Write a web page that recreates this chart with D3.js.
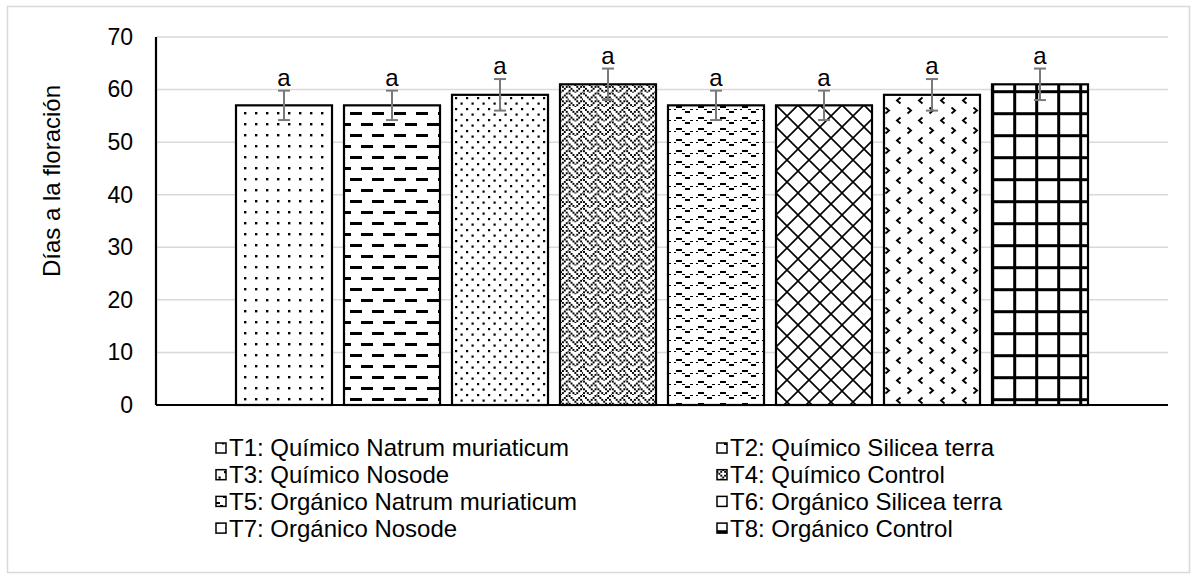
<!DOCTYPE html>
<html><head><meta charset="utf-8">
<script src="https://cdn.jsdelivr.net/npm/d3@7"></script>
<style>body{margin:0;background:#fff} svg{display:block;font-family:"Liberation Sans",Arial,sans-serif}</style>
</head><body><svg id="c" width="1197" height="580"></svg>
<script>
// ---- data ----
const series = [
  "T1: Químico Natrum muriaticum",
  "T2: Químico Silicea terra",
  "T3: Químico Nosode",
  "T4: Químico Control",
  "T5: Orgánico Natrum muriaticum",
  "T6: Orgánico Silicea terra",
  "T7: Orgánico Nosode",
  "T8: Orgánico Control"
];
const values = [57, 57, 59, 61, 57, 57, 59, 61];
const errors = [2.8, 2.8, 3, 3, 2.8, 2.8, 3, 3];
const letters = ["a", "a", "a", "a", "a", "a", "a", "a"];
const yTicks = [0, 10, 20, 30, 40, 50, 60, 70];
const yTitle = "Días a la floración";

// ---- style ----
const patternIds = ["p1", "p2", "p3", "p4", "p5", "p6", "p7", "p8"];
const plot = {left: 156, right: 1168, top: 37, bottom: 405};

const svg = d3.select("#c");
const defs = svg.append("defs");

function pat(id, w, h, x, y) {
  const p = defs.append("pattern").attr("id", id).attr("patternUnits", "userSpaceOnUse")
    .attr("width", w).attr("height", h).attr("x", x).attr("y", y);
  p.append("rect").attr("width", w).attr("height", h).attr("fill", "#fff");
  return p;
}
function bitmap(p, bits, s, pw, ph) {
  bits.forEach((b, r) => { for (let c = 0; c < 8; c++) if (b & (0x80 >> c))
    p.append("rect").attr("x", c * s).attr("y", r * s).attr("width", pw).attr("height", ph)
      .attr("fill", "#000").attr("shape-rendering", "crispEdges"); });
}
// T1 sparse dots
{ const p = pat("p1", 11, 11, 244, 112); p.append("rect").attr("width", 2.4).attr("height", 2.4).attr("fill", "#000"); }
// T2 dashed horizontal
{ const p = pat("p2", 22, 22, 350, 112);
  p.append("rect").attr("x", 0).attr("y", 0).attr("width", 12).attr("height", 3).attr("fill", "#000");
  p.append("rect").attr("x", 11).attr("y", 11).attr("width", 12).attr("height", 3).attr("fill", "#000");
  p.append("rect").attr("x", -11).attr("y", 11).attr("width", 12).attr("height", 3).attr("fill", "#000"); }
// T3 denser staggered dots
{ const p = pat("p3", 11, 11, 455, 108);
  p.append("rect").attr("x", 0).attr("y", 0).attr("width", 2.2).attr("height", 2.2).attr("fill", "#000");
  p.append("rect").attr("x", 5.5).attr("y", 5.5).attr("width", 2.2).attr("height", 2.2).attr("fill", "#000"); }
// T4 weave (8x8 bitmap)
{ const s = 1.8;
  const p = pat("p4", 8 * s, 8 * s, 560, 84);
  bitmap(p, [0x88, 0x54, 0x22, 0x45, 0x88, 0x14, 0x22, 0x51], s, s, s); }
// T5 wave (8x4 bitmap, scaled)
{ const s = 2.75;
  const p = pat("p5", 8 * s, 4 * s, 668, 103);
  bitmap(p, [0x00, 0x18, 0xa4, 0x03], s, s, 1.9); }
// T6 diamond lattice
{ const p = pat("p6", 22, 22, 776, 105);
  p.append("path").attr("d", "M0,0 L22,22 M22,0 L0,22")
    .attr("fill", "none").attr("stroke", "#000").attr("stroke-width", 1.6); }
// T7 divot
{ const p = pat("p7", 22, 20, 884, 107);
  p.append("path").attr("d", "M1.5,0.5 L5,3.5 L1.5,6.5").attr("fill", "none").attr("stroke", "#000").attr("stroke-width", 1.9);
  p.append("path").attr("d", "M16.5,10.5 L13,13.5 L16.5,16.5").attr("fill", "none").attr("stroke", "#000").attr("stroke-width", 1.9); }
// T8 grid
{ const p = pat("p8", 22, 22, 991.2, 90.2);
  p.append("rect").attr("x", 0).attr("y", 0).attr("width", 3).attr("height", 22).attr("fill", "#000");
  p.append("rect").attr("x", 0).attr("y", 0).attr("width", 22).attr("height", 3).attr("fill", "#000"); }

// frame
svg.append("rect").attr("x", 7.5).attr("y", 6.5).attr("width", 1182).attr("height", 566)
  .attr("fill", "#fff").attr("stroke", "#d9d9d9").attr("stroke-width", 1.5);

const y = d3.scaleLinear().domain([0, 70]).range([plot.bottom, plot.top]);
const x = d3.scaleBand().domain(series).range([236, 1088]).paddingInner(0.111).paddingOuter(0);

// gridlines
svg.append("g").selectAll("line").data(yTicks.filter(t => t > 0)).join("line")
  .attr("x1", plot.left).attr("x2", plot.right).attr("y1", d => y(d)).attr("y2", d => y(d))
  .attr("stroke", "#d9d9d9").attr("stroke-width", 1.5);

// y axis
const yAxis = d3.axisLeft(y).tickValues(yTicks).tickSize(0).tickPadding(0);
const gy = svg.append("g").attr("transform", `translate(133,0)`).call(yAxis);
gy.select(".domain").remove();
gy.selectAll("text").attr("font-size", 23).attr("fill", "#000").attr("font-family", "Liberation Sans, Arial, sans-serif");

// bars
svg.append("g").selectAll("rect").data(series).join("rect")
  .attr("x", d => x(d)).attr("width", x.bandwidth())
  .attr("y", (d, i) => y(values[i])).attr("height", (d, i) => y(0) - y(values[i]))
  .attr("fill", (d, i) => `url(#${patternIds[i]})`).attr("stroke", "#000").attr("stroke-width", 2.2);

// error bars
const eg = svg.append("g").attr("stroke", "#7a7a7a").attr("stroke-width", 2);
series.forEach((s, i) => {
  const cx = x(s) + x.bandwidth() / 2;
  const hi = y(values[i] + errors[i]), lo = y(values[i] - errors[i]);
  eg.append("line").attr("x1", cx).attr("x2", cx).attr("y1", hi).attr("y2", lo);
  eg.append("line").attr("x1", cx - 6).attr("x2", cx + 6).attr("y1", hi).attr("y2", hi);
  eg.append("line").attr("x1", cx - 6).attr("x2", cx + 6).attr("y1", lo).attr("y2", lo);
});

// letters
svg.append("g").selectAll("text").data(series).join("text")
  .attr("x", d => x(d) + x.bandwidth() / 2)
  .attr("y", (d, i) => y(values[i] + errors[i]) - 5)
  .attr("text-anchor", "middle").attr("font-size", 24).attr("fill", "#000")
  .text((d, i) => letters[i]);

// axes lines
svg.append("line").attr("x1", plot.left).attr("x2", plot.right).attr("y1", plot.bottom).attr("y2", plot.bottom)
  .attr("stroke", "#000").attr("stroke-width", 2.2);
svg.append("line").attr("x1", plot.left).attr("x2", plot.left).attr("y1", plot.top).attr("y2", plot.bottom)
  .attr("stroke", "#000").attr("stroke-width", 2.2);

// y title
svg.append("text").attr("transform", "translate(60,181) rotate(-90)")
  .attr("text-anchor", "middle").attr("font-size", 24).attr("fill", "#000").text(yTitle);

// legend
const colX = [216, 717];
const lg = svg.append("g");
series.forEach((s, i) => {
  const cxs = colX[i % 2], cy = 448 + Math.floor(i / 2) * 26.7;
  lg.append("rect").attr("x", cxs).attr("y", cy - 5).attr("width", 10).attr("height", 10)
    .attr("fill", `url(#${patternIds[i]})`).attr("stroke", "#000").attr("stroke-width", 1.5);
  lg.append("text").attr("x", cxs + 13).attr("y", cy).attr("dy", "0.35em")
    .attr("font-size", 24).attr("fill", "#000").text(s);
});
</script></body></html>
